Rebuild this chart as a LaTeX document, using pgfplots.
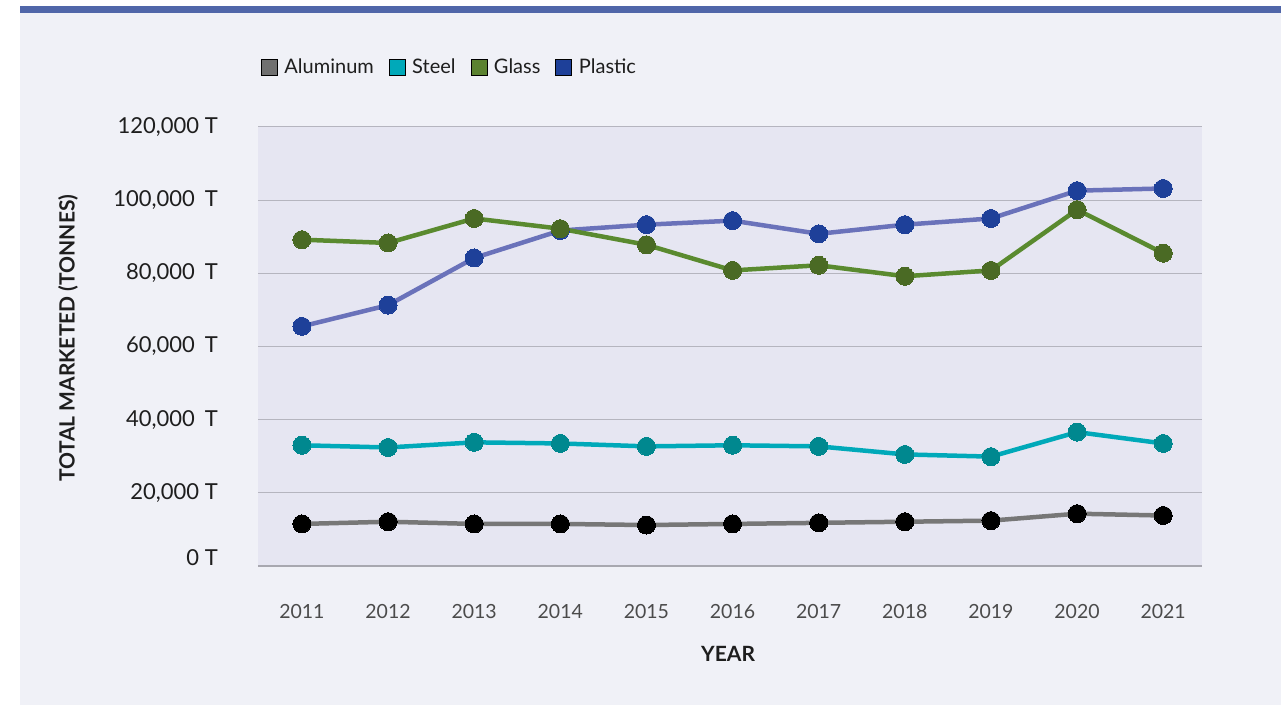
\documentclass[border=0pt]{standalone}
\usepackage{fontspec}
\setmainfont{Lato}
\usepackage{pgfplots}
\pgfplotsset{compat=1.18}
\definecolor{pagebg}{HTML}{F0F1F7}
\definecolor{topbar}{HTML}{5066A9}
\definecolor{plotbg}{HTML}{E6E6F2}
\definecolor{gridc}{HTML}{B5B5BF}
\definecolor{baseline}{HTML}{A8A8B0}
\definecolor{aluL}{HTML}{777777}
\definecolor{aluS}{HTML}{707070}
\definecolor{steelL}{HTML}{00A9B9}
\definecolor{steelM}{HTML}{00888F}
\definecolor{glassL}{HTML}{5A8A2F}
\definecolor{glassM}{HTML}{4A6A24}
\definecolor{glassS}{HTML}{5B8230}
\definecolor{plastL}{HTML}{6A72BA}
\definecolor{plastM}{HTML}{1E4099}
\definecolor{txt}{HTML}{1E1E1E}
\begin{document}
\begin{tikzpicture}[x=1pt,y=1pt]
\useasboundingbox (0,0) rectangle (1281,705);
\fill[white] (0,0) rectangle (1281,705);
\fill[pagebg] (20,0) rectangle (1281,692);
\fill[topbar] (20,692) rectangle (1281,699);
\begin{axis}[
  at={(258pt,139pt)}, anchor=south west,
  width=944pt, height=439pt, scale only axis,
  xmin=2010.49, xmax=2021.45,
  ymin=0, ymax=120000,
  scaled y ticks=false,
  axis background/.style={fill=plotbg},
  axis line style={draw=none},
  tick style={draw=none},
  xtick={2011,...,2021},
  xticklabels={2011,2012,2013,2014,2015,2016,2017,2018,2019,2020,2021},
  ytick={20000,40000,60000,80000,100000,120000},
  yticklabels={{20,000 T},{40,000\hspace{0.45em}T},{60,000\hspace{0.45em}T},{80,000\hspace{0.45em}T},{100,000\hspace{0.45em}T},{120,000 T}},
  extra y ticks={0},
  extra y tick labels={0 T},
  extra y tick style={grid style={draw=baseline, line width=2pt}, yticklabel style={yshift=8pt}},
  ymajorgrids,
  grid style={draw=gridc, line width=1pt},
  /pgf/number format/assume math mode=true,
  xticklabel style={font=\fontsize{19.5}{21}\selectfont, text=txt!80, anchor=center, yshift=-46pt},
  yticklabel style={font=\fontsize{22}{24}\selectfont, text=txt, anchor=east, inner sep=0pt, xshift=-40pt},
  xlabel={YEAR},
  xlabel style={font=\fontsize{21}{23}\selectfont\bfseries, text=txt, at={(axis description cs:0.498,-0.2005)}, anchor=center},
  ylabel={TOTAL MARKETED (TONNES)},
  ylabel style={font=\fontsize{21}{23}\selectfont\bfseries, text=txt, at={(axis description cs:-0.2013,0.519)}, anchor=center},
  legend image code/.code={\fill[#1] (0pt,-8pt) rectangle (16pt,8pt);},
  legend columns=4,
  legend style={draw=none, fill=none, at={(axis description cs:0.003,1.1367)}, anchor=west,
    font=\fontsize{20}{22}\selectfont, text=txt, inner sep=0pt,
    /tikz/every odd column/.append style={column sep=5pt},
    /tikz/every even column/.append style={column sep=13pt}},
  legend cell align=left,
]
\addlegendimage{fill=aluS}
\addlegendentry{Aluminum}
\addlegendimage{fill=steelL}
\addlegendentry{Steel}
\addlegendimage{fill=glassS}
\addlegendentry{Glass}
\addlegendimage{fill=plastM}
\addlegendentry{Plastic}

\addplot[forget plot, draw=aluL, line width=4.5pt, mark=*, mark size=9pt,
  mark options={fill=black, draw=black, line width=0pt}] coordinates {
(2011,11500) (2012,12100) (2013,11500) (2014,11500) (2015,11200) (2016,11500)
(2017,11800) (2018,12100) (2019,12400) (2020,14300) (2021,13800)};
\addplot[forget plot, draw=steelL, line width=4.5pt, mark=*, mark size=9pt,
  mark options={fill=steelM, draw=steelM, line width=0pt}] coordinates {
(2011,33000) (2012,32400) (2013,33800) (2014,33500) (2015,32700) (2016,33000)
(2017,32700) (2018,30500) (2019,29900) (2020,36600) (2021,33500)};
\addplot[forget plot, draw=plastL, line width=4.5pt, mark=*, mark size=9pt,
  mark options={fill=plastM, draw=plastM, line width=0pt}] coordinates {
(2011,65500) (2012,71300) (2013,84200) (2014,91700) (2015,93300) (2016,94400)
(2017,90800) (2018,93300) (2019,95000) (2020,102600) (2021,103200)};
\addplot[forget plot, draw=glassL, line width=4.5pt, mark=*, mark size=9pt,
  mark options={fill=glassM, draw=glassM, line width=0pt}] coordinates {
(2011,89200) (2012,88300) (2013,95000) (2014,92200) (2015,87800) (2016,80800)
(2017,82200) (2018,79200) (2019,80800) (2020,97400) (2021,85500)};
\end{axis}
\end{tikzpicture}
\end{document}
